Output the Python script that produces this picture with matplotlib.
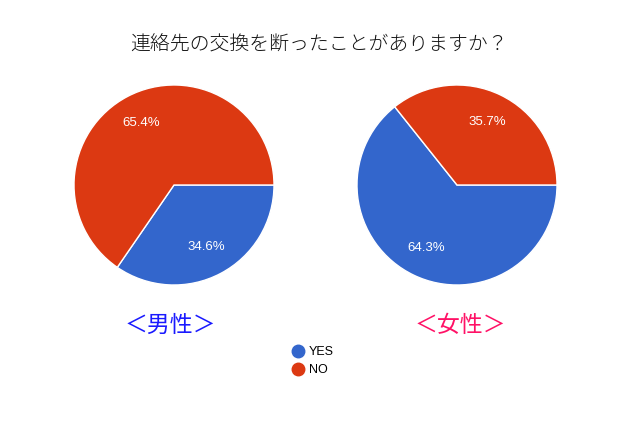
import matplotlib.pyplot as plt
from matplotlib.lines import Line2D

plt.rcParams['font.family'] = ['Liberation Sans', 'Noto Sans CJK JP', 'DejaVu Sans']

title = '連絡先の交換を断ったことがありますか？'
answers = ['YES', 'NO']
male = [34.6, 65.4]
female = [64.3, 35.7]
colors = ['#3366cc', '#dc3912']

fig = plt.figure(figsize=(6.4, 4.25), dpi=100)

def draw_pie(rect, values, label, label_color, label_x):
    ax = fig.add_axes(rect)
    ax.pie(values, colors=colors, startangle=0, counterclock=False,
           autopct='%.1f%%', pctdistance=0.7,
           wedgeprops=dict(edgecolor='white', linewidth=1),
           textprops=dict(color='white', fontsize=9.5))
    ax.set_aspect('equal')
    ax.set_xlim(-1, 1)
    ax.set_ylim(-1, 1)
    ax.text(label_x, -1.4, label, ha='center', va='center', fontsize=16.5,
            color=label_color, family=['Noto Sans CJK JP'])

draw_pie([74 / 640, 140 / 425, 200 / 640, 200 / 425], male, '＜男性＞', '#1a1aff', -0.04)
draw_pie([357 / 640, 140 / 425, 200 / 640, 200 / 425], female, '＜女性＞', '#ff1166', 0.03)

fig.text(319 / 640, 1 - 45 / 425, title, ha='center', va='center', fontsize=14.3,
         color='#111111', family=['Noto Sans CJK JP'], fontweight='light')

handles = [Line2D([], [], marker='o', linestyle='none', markersize=9,
                  markerfacecolor=c, markeredgecolor=c) for c in colors]
fig.legend(handles, answers, loc='center', bbox_to_anchor=(312 / 640, 1 - 361 / 425),
           frameon=False, fontsize=9, handletextpad=0.3, labelspacing=0.5,
           handlelength=1.2)

fig.savefig('out.png', dpi=100)
